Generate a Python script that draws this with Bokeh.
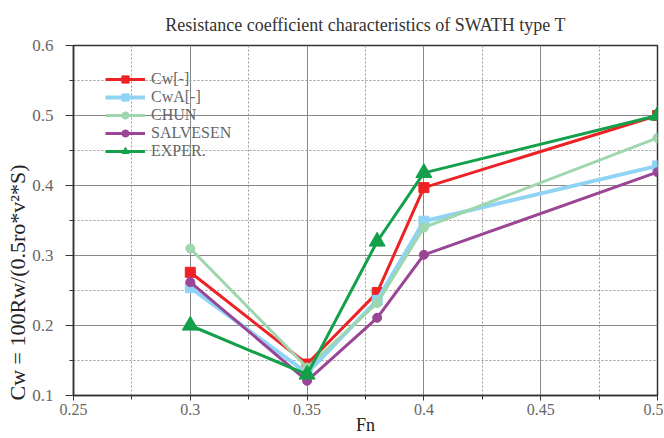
from bokeh.plotting import figure
from bokeh.embed import file_html
from bokeh.resources import INLINE
from bokeh.models import FixedTicker, Range1d, Title

fn = [0.30, 0.35, 0.38, 0.40, 0.50]
cw = [0.276, 0.145, 0.247, 0.397, 0.500]
cwa = [0.254, 0.132, 0.236, 0.349, 0.428]
chun = [0.310, 0.140, 0.232, 0.340, 0.468]
salvesen = [0.262, 0.121, 0.211, 0.301, 0.419]
exper = [0.200, 0.130, 0.320, 0.418, 0.500]

FONT = "Liberation Serif"
p = figure(frame_width=584, frame_height=350, output_backend="svg", toolbar_location=None,
           x_range=Range1d(0.25, 0.5), y_range=Range1d(0.1, 0.6),
           min_border_left=73, min_border_right=6, min_border_top=45, min_border_bottom=36)
p.title.text = "Resistance coefficient characteristics of SWATH type T"
p.title.align = "center"
p.title.text_font = FONT
p.title.text_font_style = "normal"
p.title.text_font_size = "18px"
p.title.text_color = "#333333"
p.title.offset = 0
p.title.standoff = 22

p.xaxis.ticker = FixedTicker(ticks=[0.25, 0.3, 0.35, 0.4, 0.45, 0.5],
                             minor_ticks=[0.275, 0.325, 0.375, 0.425, 0.475])
p.yaxis.ticker = FixedTicker(ticks=[0.1, 0.2, 0.3, 0.4, 0.5, 0.6],
                             minor_ticks=[0.15, 0.25, 0.35, 0.45, 0.55])
for ax in list(p.xaxis) + list(p.yaxis):
    ax.major_label_text_font = FONT
    ax.major_label_text_font_size = "17px"
    ax.major_label_text_color = "#666666"
    ax.axis_label_text_font = FONT
    ax.axis_label_text_font_style = "normal"
    ax.axis_label_text_font_size = "18px"
    ax.axis_label_text_color = "#222222"
    ax.axis_line_color = "#333333"
    ax.axis_line_width = 1.5
    ax.major_tick_line_color = "#333333"
    ax.minor_tick_line_color = "#333333"
    ax.minor_tick_out = 4
    ax.minor_tick_in = 0
    ax.major_tick_in = 0
p.yaxis.major_tick_out = 8
p.yaxis.major_label_standoff = 12
p.xaxis.major_tick_out = 5
p.xaxis.major_label_standoff = 3
p.xaxis.major_label_text_font_size = "16px"
p.xaxis.axis_label = "Fn"
p.xaxis.axis_label_text_font_size = "18px"
p.xaxis.axis_label_standoff = -3

ylab = Title(text="Cw = 100Rw/(0.5ro*v²*S)", align="left", offset=-5, standoff=0,
             text_font=FONT, text_font_style="normal", text_font_size="22px",
             text_color="#222222")
p.add_layout(ylab, "left")

for g in (p.xgrid, p.ygrid):
    g.grid_line_color = "#888888"
    g.grid_line_width = 1
    g.minor_grid_line_color = "#999999"
    g.minor_grid_line_dash = "2 2"
p.outline_line_color = "#333333"
p.outline_line_width = 1.5

series = [
    ("Cw[-]", cw, "#ee2225", "square", 10, 3),
    ("CwA[-]", cwa, "#8fd3f5", "square", 10, 4),
    ("CHUN", chun, "#9ed6ae", "circle", 9, 3),
    ("SALVESEN", salvesen, "#9a4595", "circle", 9, 3),
    ("EXPER.", exper, "#14a04a", "triangle", 16, 3),
]
for name, ys, col, mk, sz, lw in series:
    p.line(fn, ys, line_color=col, line_width=lw, legend_label=name)
    p.scatter(fn, ys, marker=mk, size=sz, fill_color=col, line_color=col, legend_label=name)

p.legend.location = (32, 350 - 25 - 90)
p.legend.border_line_color = None
p.legend.background_fill_alpha = 0
p.legend.label_text_font = FONT
p.legend.label_text_font_size = "16px"
p.legend.label_text_color = "#666666"
p.legend.glyph_width = 40
p.legend.glyph_height = 18
p.legend.label_height = 18
p.legend.spacing = 0
p.legend.margin = 0
p.legend.padding = 0
p.legend.label_standoff = 6

open("out.html", "w").write(file_html(p, INLINE))
